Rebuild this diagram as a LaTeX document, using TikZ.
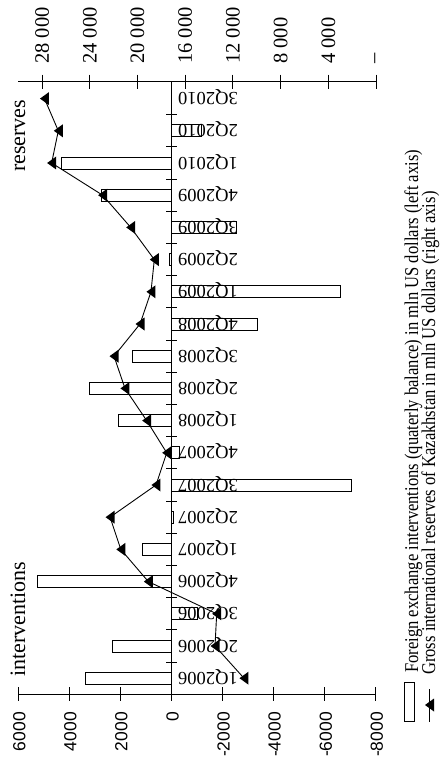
\documentclass[tikz,border=0pt]{standalone}
\usepackage{fontspec}
\usepackage{graphicx}
\setmainfont{Liberation Serif}
\newfontfamily\axsans{Liberation Sans}
\newcommand{\legsq}[1]{\scalebox{0.85}[1]{#1}}
\begin{document}
\begin{tikzpicture}[x=1pt,y=-1pt,
  bar/.style={draw=black, fill=white, line width=0.9pt},
  axisline/.style={draw=black, line width=0.9pt},
  catlabel/.style={rotate=180, anchor=base east, inner sep=0pt, font=\fontsize{18.5}{18.5}\selectfont},
  leftlab/.style={rotate=90, anchor=east, inner sep=0pt, font=\axsans\fontsize{17.5}{17.5}\selectfont},
  rightlab/.style={rotate=90, anchor=west, inner sep=0pt, font=\fontsize{20.5}{20.5}\selectfont},
  serieslab/.style={rotate=90, anchor=base west, inner sep=0pt, font=\fontsize{22}{22}\selectfont},
  legtext/.style={rotate=90, anchor=base west, inner sep=0pt, font=\fontsize{19.5}{19.5}\selectfont},
  mk/.style={fill=black, draw=none},
  rline/.style={draw=black, line width=0.9pt}
]
\useasboundingbox (0,0) rectangle (440,770);
% bars (interventions, left axis)
\foreach \i/\v in {0/3350,1/2300,2/-1000,3/5250,4/1130,5/-80,6/-7050,7/-300,8/2090,9/3220,10/1540,11/-3350,12/-6600,13/80,14/-2550,15/2740,16/4300,17/-1180}{
  \path[bar] (171.5,{694.3-32.2*(\i+0.5)-6}) rectangle ({171.5-0.02554*\v},{694.3-32.2*(\i+0.5)+6});
}
% axes
\draw[axisline] (18.3,81.7) -- (376,81.7);
\draw[axisline] (18.3,694.3) -- (376,694.3);
\draw[axisline] (171.5,81.7) -- (171.5,694.3);
\foreach \k in {1,...,18}{
  \draw[axisline] (166,{694.3-32.2*\k}) -- (177,{694.3-32.2*\k});
}
% left axis
\foreach \v/\t [count=\k] in {6000/6000,4000/4000,2000/2000,0/0,-2000/-2000,-4000/-4000,-6000/-6000,-8000/-8000}{
  \draw[axisline] ({171.5-0.02554*\v},687.3) -- ({171.5-0.02554*\v},701.3);
  \node[leftlab] (l\k) at ({171.5-0.02554*\v+1},712) {\t};
}
% right axis
\foreach \v/\t [count=\k] in {28/28 000,24/24 000,20/20 000,16/16 000,12/12 000,8/8 000,4/4 000}{
  \draw[axisline] ({376-11.925*\v},74.7) -- ({376-11.925*\v},88.7);
  \node[rightlab] (r\k) at ({376-11.925*\v},64) {\t};
}
\draw[axisline] (376,74.7) -- (376,88.7);
\node[rightlab] (r0) at (377,64) {--};
% category labels
\foreach \i/\t in {0/1Q2006,1/2Q2006,2/3Q2006,3/4Q2006,4/1Q2007,5/2Q2007,6/3Q2007,7/4Q2007,8/1Q2008,9/2Q2008,10/3Q2008,11/4Q2008,12/1Q2009,13/2Q2009,14/3Q2009,15/4Q2009,16/1Q2010,17/2Q2010,18/3Q2010}{
  \node[catlabel] (c\i) at (178,{694.3-32.2*(\i+0.5)-6}) {\t};
}
% reserves line
\foreach \i/\r in {0/11.07,1/13.5,2/13.36,3/19.09,4/21.4,5/22.3,6/18.45,7/17.55,8/19.23,9/21.05,10/21.97,11/19.79,12/18.87,13/18.59,14/20.57,15/22.92,16/27.2,17/26.64,18/27.8}{
  \coordinate (p\i) at ({376-11.925*\r},{694.3-32.2*(\i+0.5)});
}
\draw[rline] (p0) \foreach \i in {1,...,18}{ -- (p\i)};
\foreach \i in {0,...,18}{
  \fill[mk] ([xshift=-4.5pt]p\i) -- ([xshift=4.5pt,yshift=6.5pt]p\i) -- ([xshift=4.5pt,yshift=-6.5pt]p\i) -- cycle;
}
% series labels
\node[serieslab] (rs) at (25,172) {reserves};
\node[serieslab] (iv) at (25,677) {interventions};
% legend
\node[bar, minimum width=10pt, minimum height=39pt, inner sep=0pt] (legbar) at (409,701.5) {};
\coordinate (lla) at (429.5,689);
\coordinate (llb) at (429.5,722);
\coordinate (llm) at (429.5,705);
\draw[rline] (lla) -- (llb);
\fill[mk] ([xshift=-4.5pt]llm) -- ([xshift=4.5pt,yshift=6.5pt]llm) -- ([xshift=4.5pt,yshift=-6.5pt]llm) -- cycle;
\node[legtext] (leg1) at (418,673) {\legsq{Foreign exchange interventions (quaterly balance) in mln US dollars (left axis)}};
\node[legtext] (leg2) at (435,675) {\legsq{Gross international reserves of Kazakhstan in mln US dollars (right axis)}};
\end{tikzpicture}
\end{document}
